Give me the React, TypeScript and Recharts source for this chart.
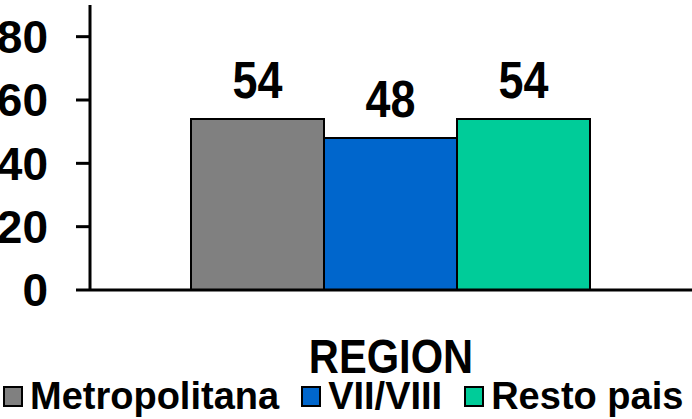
import React from "react";
import { Bar, BarChart, LabelList, Legend, XAxis, YAxis } from "recharts";

const categories = ["REGION"];
const seriesNames = ["Metropolitana", "VII/VIII", "Resto pais"];
const metropolitana = [54];
const viiViii = [48];
const restoPais = [54];
const yTicks = [0, 20, 40, 60, 80];

const colors = ["#808080", "#0066CC", "#00CC99"];
const keys = ["metro", "vii", "resto"];
const FONT = '"Liberation Sans", Arial, sans-serif';

const data = categories.map((c, i) => ({
  region: c,
  metro: metropolitana[i],
  vii: viiViii[i],
  resto: restoPais[i],
}));

const RegionTick = ({ x, y, payload }: { x?: number; y?: number; payload?: { value: string } }) => (
  <text
    transform={`translate(${x ?? 0},${(y ?? 0) + 75}) scale(0.85,1)`}
    textAnchor="middle"
    fontFamily={FONT}
    fontWeight="bold"
    fontSize={49}
    fill="#000"
  >
    {payload?.value}
  </text>
);

const ValueLabel = ({ x, y, width, value }: { x?: number; y?: number; width?: number; value?: number }) => (
  <text
    transform={`translate(${Number(x) + Number(width) / 2},${Number(y) - 21}) scale(0.88,1)`}
    textAnchor="middle"
    fontFamily={FONT}
    fontWeight="bold"
    fontSize={51}
    fill="#000"
  >
    {value}
  </text>
);

const LegendBox = () => (
  <div style={{ display: "flex", alignItems: "center", fontFamily: FONT, fontWeight: "bold", fontSize: 38, color: "#000", lineHeight: "40px" }}>
    {seriesNames.map((n, i) => (
      <div key={n} style={{ display: "flex", alignItems: "center", marginLeft: i === 0 ? 3 : 22 }}>
        <span style={{ width: 16, height: 17, background: colors[i], border: "2px solid #000", marginRight: 7, display: "inline-block" }} />
        <span>{n}</span>
      </div>
    ))}
  </div>
);

export default function App() {
  return (
    <div style={{ width: 692, height: 419, background: "#fff" }}>
      <style>{"body{margin:0}"}</style>
      <BarChart width={692} height={419} data={data} margin={{ top: 5, right: 0, left: 0, bottom: 0 }} barGap={0} barCategoryGap={101}>
        <XAxis
          dataKey="region"
          axisLine={{ stroke: "#000", strokeWidth: 3 }}
          tickLine={false}
          tick={<RegionTick />}
          height={89}
        />
        <YAxis
          domain={[0, 90]}
          ticks={yTicks}
          width={90}
          axisLine={{ stroke: "#000", strokeWidth: 3 }}
          tickLine={{ stroke: "#000", strokeWidth: 3 }}
          tickSize={14}
          tickMargin={28}
          tick={{ fontFamily: FONT, fontWeight: "bold", fontSize: 46, fill: "#000" }}
        />
        <Legend verticalAlign="bottom" height={40} content={<LegendBox />} wrapperStyle={{ left: 0, width: 692, bottom: 3 }} />
        {keys.map((k, i) => (
          <Bar key={k} dataKey={k} name={seriesNames[i]} fill={colors[i]} stroke="#000" strokeWidth={2} isAnimationActive={false}>
            <LabelList dataKey={k} content={<ValueLabel />} />
          </Bar>
        ))}
      </BarChart>
    </div>
  );
}
